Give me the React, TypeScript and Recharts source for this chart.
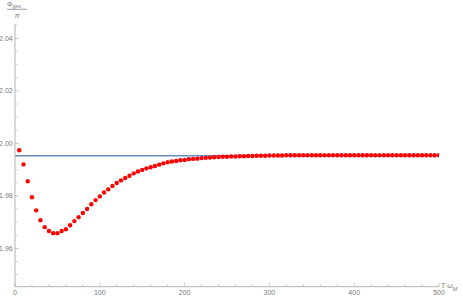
import React from 'react';
import { ComposedChart, Scatter, Line, XAxis, YAxis, Label } from 'recharts';

// T * omega_M sample points
const T_VALUES = [
  5, 10, 15, 20, 25, 30, 35, 40, 45, 50,
  55, 60, 65, 70, 75, 80, 85, 90, 95, 100,
  105, 110, 115, 120, 125, 130, 135, 140, 145, 150,
  155, 160, 165, 170, 175, 180, 185, 190, 195, 200,
  205, 210, 215, 220, 225, 230, 235, 240, 245, 250,
  255, 260, 265, 270, 275, 280, 285, 290, 295, 300,
  305, 310, 315, 320, 325, 330, 335, 340, 345, 350,
  355, 360, 365, 370, 375, 380, 385, 390, 395, 400,
  405, 410, 415, 420, 425, 430, 435, 440, 445, 450,
  455, 460, 465, 470, 475, 480, 485, 490, 495, 500,
];

// Phi_geo / pi values (red points)
const PHI_OVER_PI = [
  1.9974, 1.9920, 1.9856, 1.9795, 1.9745, 1.9707, 1.9681, 1.9666, 1.9658, 1.9658,
  1.9666, 1.9673, 1.9688, 1.9704, 1.9719, 1.9735, 1.9750, 1.9768, 1.9784, 1.9798,
  1.9813, 1.9825, 1.9838, 1.9849, 1.9859, 1.9868, 1.9877, 1.9886, 1.9893, 1.9899,
  1.9905, 1.9909, 1.9914, 1.9919, 1.9924, 1.9928, 1.9931, 1.9933, 1.9936, 1.9937,
  1.9940, 1.9941, 1.9942, 1.9944, 1.9945, 1.9946, 1.9947, 1.9948, 1.9949, 1.9949,
  1.9950, 1.9950, 1.9951, 1.9951, 1.9952, 1.9952, 1.9953, 1.9953, 1.9953, 1.9954,
  1.9954, 1.9954, 1.9954, 1.9955, 1.9955, 1.9955, 1.9955, 1.9955, 1.9955, 1.9955,
  1.9955, 1.9955, 1.9955, 1.9955, 1.9955, 1.9955, 1.9955, 1.9955, 1.9955, 1.9955,
  1.9955, 1.9955, 1.9955, 1.9955, 1.9955, 1.9955, 1.9955, 1.9955, 1.9955, 1.9955,
  1.9955, 1.9955, 1.9955, 1.9955, 1.9955, 1.9955, 1.9955, 1.9955, 1.9955, 1.9955,
];

// horizontal reference level (blue line)
const LINE_T = [0, 500];
const ASYMPTOTE = 1.9953;

const X_DOMAIN = [0, 500];
const Y_DOMAIN = [1.9454, 2.0455];

const X_TICKS = [0, 20, 40, 60, 80, 100, 120, 140, 160, 180, 200, 220, 240, 260, 280, 300, 320, 340, 360, 380, 400, 420, 440, 460, 480, 500];
const X_LABELED = [0, 100, 200, 300, 400, 500];
const Y_TICKS = [1.95, 1.955, 1.96, 1.965, 1.97, 1.975, 1.98, 1.985, 1.99, 1.995, 2.0, 2.005, 2.01, 2.015, 2.02, 2.025, 2.03, 2.035, 2.04, 2.045];
const Y_LABELED = [1.96, 1.98, 2.0, 2.02, 2.04];

const points = T_VALUES.map((t, i) => ({ T: t, phi: PHI_OVER_PI[i] }));
const lineData = LINE_T.map((t) => ({ T: t, phi: ASYMPTOTE }));

const AXIS_COLOR = '#b3b3b3';
const TEXT_COLOR = '#7a7a7a';
const FONT = '"Liberation Sans", Arial, sans-serif';

const isLabeled = (list: number[], v: number) => list.some((l) => Math.abs(l - v) < 1e-9);

const XTick = (props: any) => {
  const { x, y, payload } = props;
  const v = payload.value;
  const major = isLabeled(X_LABELED, v);
  return (
    <g>
      <line x1={x} x2={x} y1={y} y2={y - (major ? 4 : 2.5)} stroke={AXIS_COLOR} strokeWidth={0.7} />
      {major && (
        <text x={x} y={y + 8.5} textAnchor="middle" fontSize={7} fill={TEXT_COLOR} fontFamily={FONT}>
          {v}
        </text>
      )}
    </g>
  );
};

const YTick = (props: any) => {
  const { x, y, payload } = props;
  const v = payload.value;
  const major = isLabeled(Y_LABELED, v);
  return (
    <g>
      <line x1={x} x2={x + (major ? 4 : 2.5)} y1={y} y2={y} stroke={AXIS_COLOR} strokeWidth={0.7} />
      {major && (
        <text x={x - 2.3} y={y + 2.5} textAnchor="end" fontSize={7} fill={TEXT_COLOR} fontFamily={FONT}>
          {v.toFixed(2)}
        </text>
      )}
    </g>
  );
};

const XLabel = (props: any) => {
  const vb = props.viewBox || {};
  const x0 = (vb.x ?? 0) + (vb.width ?? 0) + 2;
  const y0 = (vb.y ?? 0) + 1.5;
  return (
    <text x={x0} y={y0} fontSize={7} fill={TEXT_COLOR} fontFamily={FONT} fontStyle="italic">
      T ω
      <tspan fontSize={5.5} dy={2.5}>M</tspan>
    </text>
  );
};

const YLabel = (props: any) => {
  const vb = props.viewBox || {};
  const ax = (vb.x ?? 0) + (vb.width ?? 0);
  const ay = vb.y ?? 0;
  return (
    <g fontFamily={FONT} fill={TEXT_COLOR}>
      <text x={ax - 8} y={ay - 17.3} fontSize={7}>
        Φ
        <tspan fontSize={5} dy={1}>geo</tspan>
      </text>
      <line x1={ax - 8} x2={ax + 12} y1={ay - 14.7} y2={ay - 14.7} stroke={TEXT_COLOR} strokeWidth={0.7} />
      <text x={ax + 2} y={ay - 6.5} fontSize={7} textAnchor="middle" fontStyle="italic">
        π
      </text>
    </g>
  );
};

const Dot = (props: any) => {
  const { cx, cy } = props;
  return <circle cx={cx} cy={cy} r={2.2} fill="#ff0000" />;
};

export default function App() {
  return (
    <div style={{ position: 'absolute', left: 0, top: 0, background: '#fff' }}>
      <ComposedChart
        width={463}
        height={299}
        margin={{ top: 24, right: 24, bottom: 0, left: 0 }}
      >
        <XAxis
          type="number"
          dataKey="T"
          domain={X_DOMAIN}
          ticks={X_TICKS}
          interval={0}
          height={12.3}
          tickSize={0}
          tickMargin={0}
          tickLine={false}
          tick={<XTick />}
          axisLine={{ stroke: AXIS_COLOR, strokeWidth: 1 }}
          allowDataOverflow
        >
          <Label content={<XLabel />} />
        </XAxis>
        <YAxis
          type="number"
          dataKey="phi"
          domain={Y_DOMAIN}
          ticks={Y_TICKS}
          interval={0}
          width={15}
          tickSize={0}
          tickMargin={0}
          tickLine={false}
          tick={<YTick />}
          axisLine={{ stroke: AXIS_COLOR, strokeWidth: 1 }}
          allowDataOverflow
        >
          <Label content={<YLabel />} />
        </YAxis>
        <Line
          data={lineData}
          dataKey="phi"
          stroke="#6a8bbd"
          strokeWidth={1.4}
          dot={false}
          activeDot={false}
          isAnimationActive={false}
        />
        <Scatter data={points} dataKey="phi" shape={<Dot />} isAnimationActive={false} />
      </ComposedChart>
    </div>
  );
}
